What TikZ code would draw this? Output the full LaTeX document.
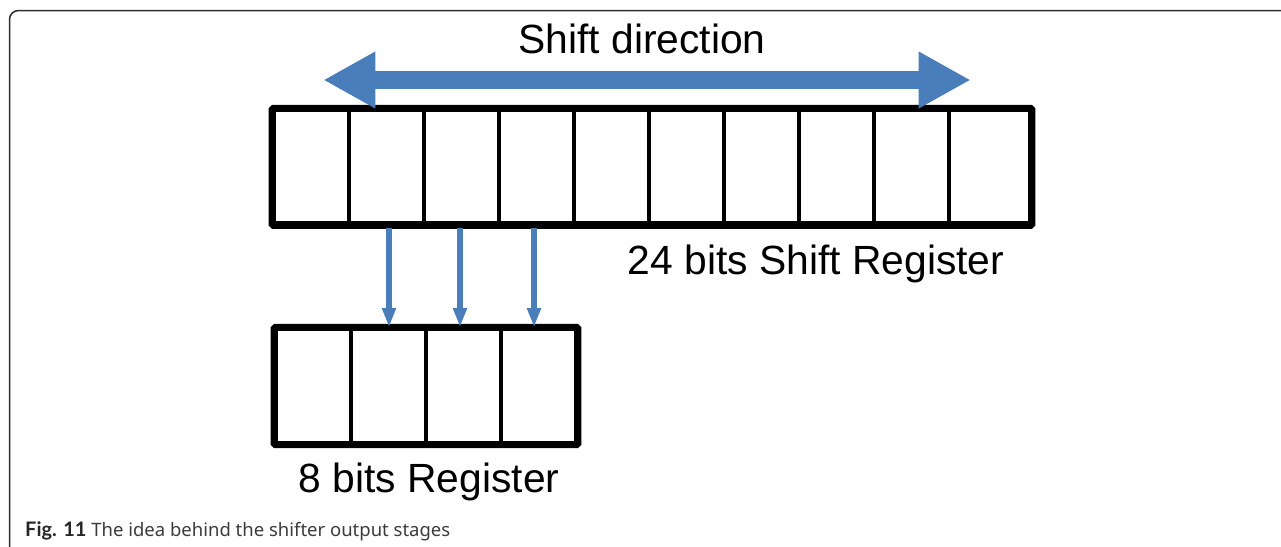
\documentclass[tikz,border=0pt]{standalone}
\usepackage{fontspec}
\setmainfont{Liberation Sans}
\newfontfamily\capfont{Noto Sans}
\newfontfamily\capboldfont{Lato}
\usetikzlibrary{arrows.meta}
\definecolor{regblue}{RGB}{74,126,187}
\definecolor{framegray}{RGB}{45,45,45}
\definecolor{captext}{RGB}{60,60,60}
\tikzset{
  cell/.style={draw=black, line width=4.3pt, rectangle, inner sep=0pt, anchor=center},
  regframe/.style={draw=black, line width=6.5pt, rounded corners=1.5pt},
  label/.style={font=\fontsize{40.8}{44}\selectfont, inner sep=0pt, anchor=base},
  feed/.style={draw=regblue, line width=6pt, -{Triangle[length=19pt,width=13pt]}},
  shiftarrow/.style={draw=regblue, line width=18pt,
    {Triangle[length=52pt,width=53pt]}-{Triangle[length=52pt,width=53pt]}}
}
\begin{document}
\begin{tikzpicture}[x=1pt,y=-1pt]
\useasboundingbox (0,0) rectangle (1281,546);
% outer panel frame (continues past the right and bottom edges)
\begin{scope}
  \clip (0,0) rectangle (1281,546);
  \draw[framegray, line width=1.5pt, rounded corners=9pt] (9.5,10.5) rectangle (1300,570);
\end{scope}

% 24-bit shift register: ten cells
\foreach \i in {0,...,8}{
  \node[cell, minimum width=75pt, minimum height=113.2pt] (t\i) at ({274+75*\i+37.5},166.9) {};
}
\node[cell, minimum width=81pt, minimum height=113.2pt] (t9) at (989.5,166.9) {};
\draw[regframe] (t0.north west) rectangle (t9.south east);

% 8-bit register: four cells
\foreach \i in {0,...,3}{
  \node[cell, minimum width=75pt, minimum height=113.4pt] (b\i) at ({276+75*\i+37.5},386) {};
}
\draw[regframe] (b0.north west) rectangle (b3.south east);

% parallel outputs into the 8-bit register
\foreach \s/\d/\x in {t1/b1/389,t2/b2/460,t3/b3/534}{
  \draw[feed] (\x,{228}) coordinate (\s out) -- (\s out |- \d.north);
}

% bidirectional shift arrow
\coordinate (shl) at (323.3,80);
\coordinate (shr) at (970.7,80);
\draw[shiftarrow] (shl) -- (shr);

% labels
\node[label] (dir) at (642,53) {Shift direction};
\node[label] (big) at (816,274.5) {24 bits Shift Register};
\node[label] (small) at (429,492) {8 bits Register};

% caption
\node[anchor=base west, inner sep=0pt, text=captext,
      font=\capfont\fontsize{18.5}{20}\selectfont] (cap) at (25,536.7)
  {{\capboldfont\bfseries\fontsize{20}{20}\selectfont\color{black!85}Fig. 11} The idea behind the shifter output stages};
\end{tikzpicture}
\end{document}
